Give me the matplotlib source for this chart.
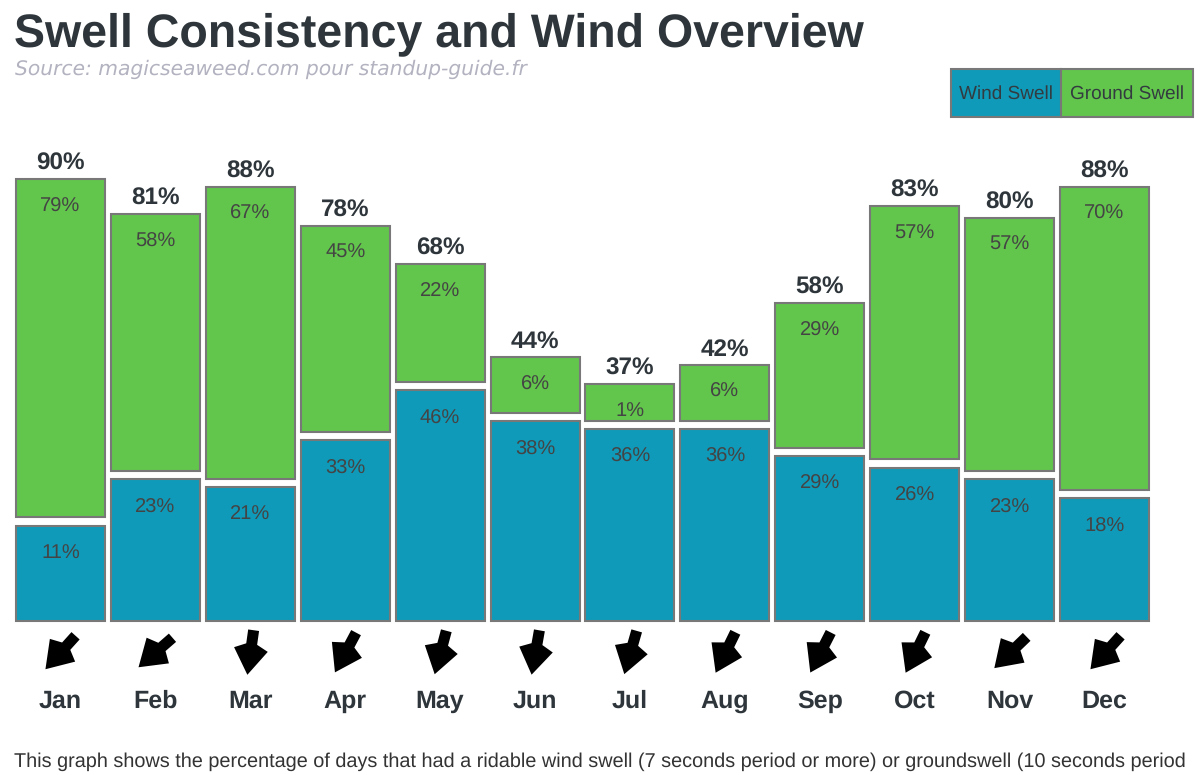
import matplotlib
matplotlib.use('Agg')

import numpy as np
import matplotlib.pyplot as plt
from matplotlib.markers import MarkerStyle
from matplotlib.patches import Rectangle
from matplotlib.path import Path
from matplotlib.transforms import Affine2D

months = ['Jan', 'Feb', 'Mar', 'Apr', 'May', 'Jun',
          'Jul', 'Aug', 'Sep', 'Oct', 'Nov', 'Dec']
wind_swell = [11, 23, 21, 33, 46, 38, 36, 36, 29, 26, 23, 18]
ground_swell = [79, 58, 67, 45, 22, 6, 1, 6, 29, 57, 57, 70]
totals = [90, 81, 88, 78, 68, 44, 37, 42, 58, 83, 80, 88]
# degrees from straight down, turning towards the left
wind_angle = [42, 49, 8, 28, 15, 10, 16, 26, 27, 26, 46, 42]

title = 'Swell Consistency and Wind Overview'
source = 'Source: magicseaweed.com pour standup-guide.fr'
# the reference cuts this sentence off at the right edge
footer = ('This graph shows the percentage of days that had a ridable wind swell '
          '(7 seconds period or more) or groundswell (10 seconds period')

BLUE = '#0f9ab9'
GREEN = '#63c64c'
EDGE = '#787878'
DARK = '#2e363b'
LABEL = '#444444'

WIDTH, HEIGHT = 1200, 775
PX = 0.72  # points per pixel at dpi 100

# The original bars are html boxes with padding, so every segment
# has a fixed part on top of its value.
BLUE_PAD = 13.58
GREEN_PAD = 8.38
GAP = 2.1

plt.rcParams['font.family'] = ['Liberation Sans', 'DejaVu Sans']
plt.rcParams['text.hinting'] = 'no_hinting'


def arrow_marker(angle):
    """Down pointing arrow, turned clockwise by angle."""
    verts = [(-5.5, 22.5), (5.5, 22.5), (5.5, 8.5), (17, 3), (0, -22.5),
             (-17, 3), (-5.5, 8.5), (-5.5, 22.5)]
    codes = [Path.MOVETO] + [Path.LINETO] * 6 + [Path.CLOSEPOLY]
    return MarkerStyle(Path(verts, codes), transform=Affine2D().rotate_deg(-angle))


fig = plt.figure(figsize=(WIDTH / 100, HEIGHT / 100), dpi=100)

# axes runs from x=13 to x=1152 and y=140 to y=620.7 in picture pixels
ax = fig.add_axes([13 / WIDTH, 1 - 620.7 / HEIGHT,
                   1139 / WIDTH, 480.7 / HEIGHT])
ax.set_xlim(-0.5, 11.5)
ax.set_ylim(0, 124.2)
ax.axis('off')

x = np.arange(len(months))
blue_h = np.array(wind_swell) + BLUE_PAD
green_h = np.array(ground_swell) + GREEN_PAD
green_bottom = blue_h + GAP

ax.bar(x, blue_h, width=0.938, color=BLUE, edgecolor=EDGE, linewidth=1.5, clip_on=False)
ax.bar(x, green_h, bottom=green_bottom, width=0.938, color=GREEN,
       edgecolor=EDGE, linewidth=1.5, clip_on=False)

for i, month in enumerate(months):
    ax.annotate(f'{wind_swell[i]}%', (x[i], blue_h[i]), xytext=(0, -26 * PX),
                textcoords='offset points', ha='center', va='center_baseline',
                fontsize=14.5, color=LABEL)
    top = green_bottom[i] + green_h[i]
    ax.annotate(f'{ground_swell[i]}%', (x[i], top), xytext=(0, -25 * PX),
                textcoords='offset points', ha='center', va='center_baseline',
                fontsize=14.5, color=LABEL)
    ax.annotate(f'{totals[i]}%', (x[i], top), xytext=(0, 18 * PX),
                textcoords='offset points', ha='center', va='center_baseline',
                fontsize=17.5, fontweight='bold', color=DARK)

    # arrows and month names sit under the axes
    ax.plot([x[i]], [-31.5 / 480.7], marker=arrow_marker(wind_angle[i]),
            markersize=32.4, color='black', markeredgewidth=0,
            transform=ax.get_xaxis_transform(), clip_on=False)
    ax.annotate(month, (x[i], 0), xytext=(0, -87 * PX), textcoords='offset points',
                ha='center', va='baseline', fontsize=18, fontweight='bold', color=DARK)

# title block, placed in picture pixels
fig.text(14.5 / WIDTH, 1 - 46.5 / HEIGHT, title, fontsize=33.5, fontweight='bold',
         color=DARK, va='baseline')
fig.text(15 / WIDTH, 1 - 75 / HEIGHT, source, fontsize=14.6, style='italic',
         family=['DejaVu Sans'], color='#b2b2c0', va='baseline')
fig.text(14 / WIDTH, 1 - 767 / HEIGHT, footer, fontsize=14.3, color='#333333',
         va='baseline')

# legend boxes
for left, right, color, name in [(951, 1061, BLUE, 'Wind Swell'),
                                 (1061, 1193, GREEN, 'Ground Swell')]:
    fig.add_artist(Rectangle((left / WIDTH, 1 - 117 / HEIGHT), (right - left) / WIDTH,
                             48 / HEIGHT, transform=fig.transFigure, facecolor=color,
                             edgecolor=EDGE, linewidth=1.5))
    fig.text((left + right) / 2 / WIDTH, 1 - 99 / HEIGHT, name, fontsize=13.7,
             color='#333b40', ha='center', va='baseline')

fig.savefig('out.png', dpi=100)
